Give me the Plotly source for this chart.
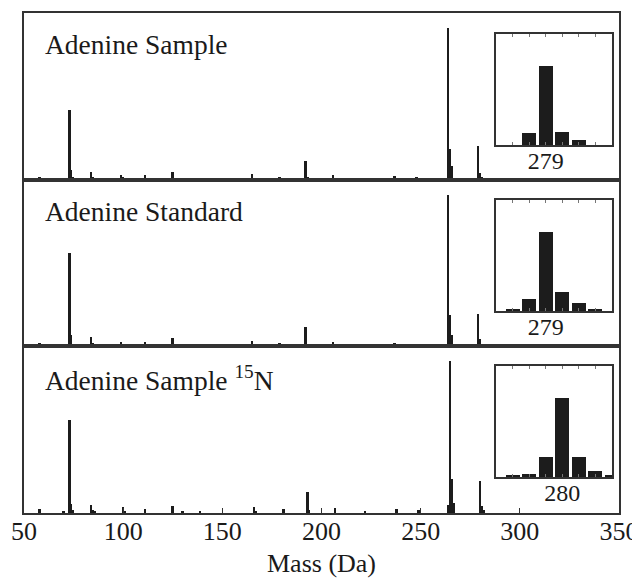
import plotly.graph_objects as go

# ---- data (relative intensity, % of base peak) ----
mass_sample = [58, 70, 73, 74, 75, 84, 85, 86, 99, 100, 111, 125, 130, 139, 150, 157,
               165, 166, 176, 179, 180, 192, 193, 206, 221, 237, 238, 248,
               264, 265, 266, 279, 280, 281]
int_sample = [2, 0.7, 46, 6.6, 1.5, 5, 2, 1, 3, 1.5, 3, 5, 0.7, 0.7, 0.7, 0.5,
              3.7, 1, 0.7, 2, 1, 12.5, 1.5, 3, 0.7, 2.6, 1, 2,
              100, 20, 9, 22, 4.5, 1.5]

mass_standard = [58, 70, 73, 74, 75, 84, 85, 86, 99, 100, 111, 125, 130, 139, 150, 157,
                 165, 166, 176, 179, 180, 192, 193, 206, 221, 237, 238, 248,
                 264, 265, 266, 279, 280, 281]
int_standard = [2.2, 0.8, 62, 7.8, 1.5, 6.4, 2.2, 1, 3.2, 1.5, 3, 6, 0.7, 0.7, 0.7, 0.5,
                3.8, 1, 0.7, 2.2, 1, 13, 1.5, 3, 0.7, 2.6, 1, 2,
                100, 21, 8, 21.5, 5, 1.5]

mass_15n = [58, 70, 73, 74, 75, 84, 85, 86, 100, 101, 111, 125, 130, 139, 166, 167,
            181, 193, 194, 207, 222, 238, 249,
            264, 265, 266, 267, 280, 281, 282]
int_15n = [2.5, 1, 61, 6, 1.5, 5, 2, 1, 3.5, 1.2, 2.2, 4.6, 0.7, 0.7, 4, 1,
           2.2, 13.5, 1.5, 3.3, 0.7, 2.5, 2,
           5, 100, 22.5, 6.5, 21, 4.7, 1.5]

# isotope clusters (insets), % of cluster maximum
inset_mass_sample = [278, 279, 280, 281]
inset_int_sample = [15.4, 100, 16.7, 6.4]
inset_mass_standard = [277, 278, 279, 280, 281, 282]
inset_int_standard = [1.3, 15.2, 100, 24, 10, 2.5]
inset_mass_15n = [277, 278, 279, 280, 281, 282, 283]
inset_int_15n = [1.3, 3.8, 25, 100, 25, 7.6, 1.3]

panel_labels = ["Adenine Sample", "Adenine Standard", "Adenine Sample <sup>15</sup>N"]
inset_tick_label = ["279", "279", "280"]
x_ticks = [50, 100, 150, 200, 250, 300, 350]
x_title = "Mass (Da)"

FONT = "Liberation Serif, Times New Roman, serif"
BAR = "#1c1c1c"
LINE = "#333333"
TXT = "#1a1a1a"

fig = go.Figure()

main_sets = [(mass_sample, int_sample), (mass_standard, int_standard), (mass_15n, int_15n)]
inset_sets = [(inset_mass_sample, inset_int_sample), (inset_mass_standard, inset_int_standard),
              (inset_mass_15n, inset_int_15n)]

panel_dom = [[2 / 3, 1.0], [1 / 3, 2 / 3], [0.0, 1 / 3]]
inset_y = [[0.736, 0.958], [0.404, 0.626], [0.072, 0.294]]
inset_x = [0.7933, 0.9882]
label_y = [0.938, 0.603, 0.27]

for i in range(3):
    xa = "x" if i == 0 else f"x{i + 1}"
    ya = "y" if i == 0 else f"y{i + 1}"
    m, v = main_sets[i]
    fig.add_trace(go.Bar(x=m, y=v, width=0.9, marker=dict(color=BAR, line=dict(width=0)),
                         xaxis=xa, yaxis=ya, showlegend=False))
    xi = f"x{i + 4}"
    yi = f"y{i + 4}"
    im, iv = inset_sets[i]
    fig.add_trace(go.Bar(x=im, y=iv, width=0.84, marker=dict(color=BAR, line=dict(width=0)),
                         xaxis=xi, yaxis=yi, showlegend=False))

# page body has an 8px default margin: figure shifted 8px right/down
layout = dict(
    width=632, height=570,
    margin=dict(l=16, r=21, t=5, b=65),
    paper_bgcolor="white", plot_bgcolor="white",
    font=dict(family=FONT, size=26, color=TXT),
    bargap=0,
    annotations=[],
)

for i in range(3):
    kx = "xaxis" if i == 0 else f"xaxis{i + 1}"
    ky = "yaxis" if i == 0 else f"yaxis{i + 1}"
    ya_name = "y" if i == 0 else f"y{i + 1}"
    xa_name = "x" if i == 0 else f"x{i + 1}"
    bottom = (i == 2)
    layout[kx] = dict(
        domain=[0, 1], anchor=ya_name, range=[50, 350], automargin=False,
        showline=True, linecolor=LINE, linewidth=1.5, mirror=True,
        showgrid=False, zeroline=False,
        tickvals=x_ticks, ticks="inside" if bottom else "", ticklen=5, tickcolor=LINE,
        showticklabels=bottom, ticklabelstandoff=-6,
        tickfont=dict(family=FONT, size=26, color=TXT),
    )
    if i > 0:
        layout[kx]["matches"] = "x"
    layout[ky] = dict(
        domain=panel_dom[i], anchor=xa_name, range=[0, 110], automargin=False,
        showline=True, linecolor=LINE, linewidth=1.5, mirror=True,
        showgrid=False, zeroline=False, showticklabels=False, ticks="",
    )
    kxi = f"xaxis{i + 4}"
    kyi = f"yaxis{i + 4}"
    center = int(inset_tick_label[i])
    layout[kxi] = dict(
        domain=inset_x, anchor=f"y{i + 4}", range=[276, 283], automargin=False,
        showline=True, linecolor=LINE, linewidth=1.5, mirror="allticks",
        showgrid=False, zeroline=False,
        tickvals=[277, 278, 279, 280, 281, 282],
        ticktext=[inset_tick_label[i] if t == center else "" for t in [277, 278, 279, 280, 281, 282]],
        ticks="inside", ticklen=3, tickcolor="#777777", tickwidth=1,
        ticklabelstandoff=-7,
        tickfont=dict(family=FONT, size=24, color=TXT),
    )
    layout[kyi] = dict(
        domain=inset_y[i], anchor=f"x{i + 4}", range=[0, 140], automargin=False,
        showline=True, linecolor=LINE, linewidth=1.5, mirror=True,
        showgrid=False, zeroline=False, showticklabels=False, ticks="",
    )
    layout["annotations"].append(dict(
        text=panel_labels[i], xref="paper", yref="paper", x=0.032, y=label_y[i],
        xanchor="left", yanchor="middle", showarrow=False,
        font=dict(family=FONT, size=27.5, color=TXT),
    ))

layout["annotations"].append(dict(
    text=x_title, xref="paper", yref="paper", x=0.5, y=-0.1,
    xanchor="center", yanchor="middle", showarrow=False,
    font=dict(family=FONT, size=26, color=TXT),
))

fig.update_layout(**layout)
fig.write_html("out.html")
